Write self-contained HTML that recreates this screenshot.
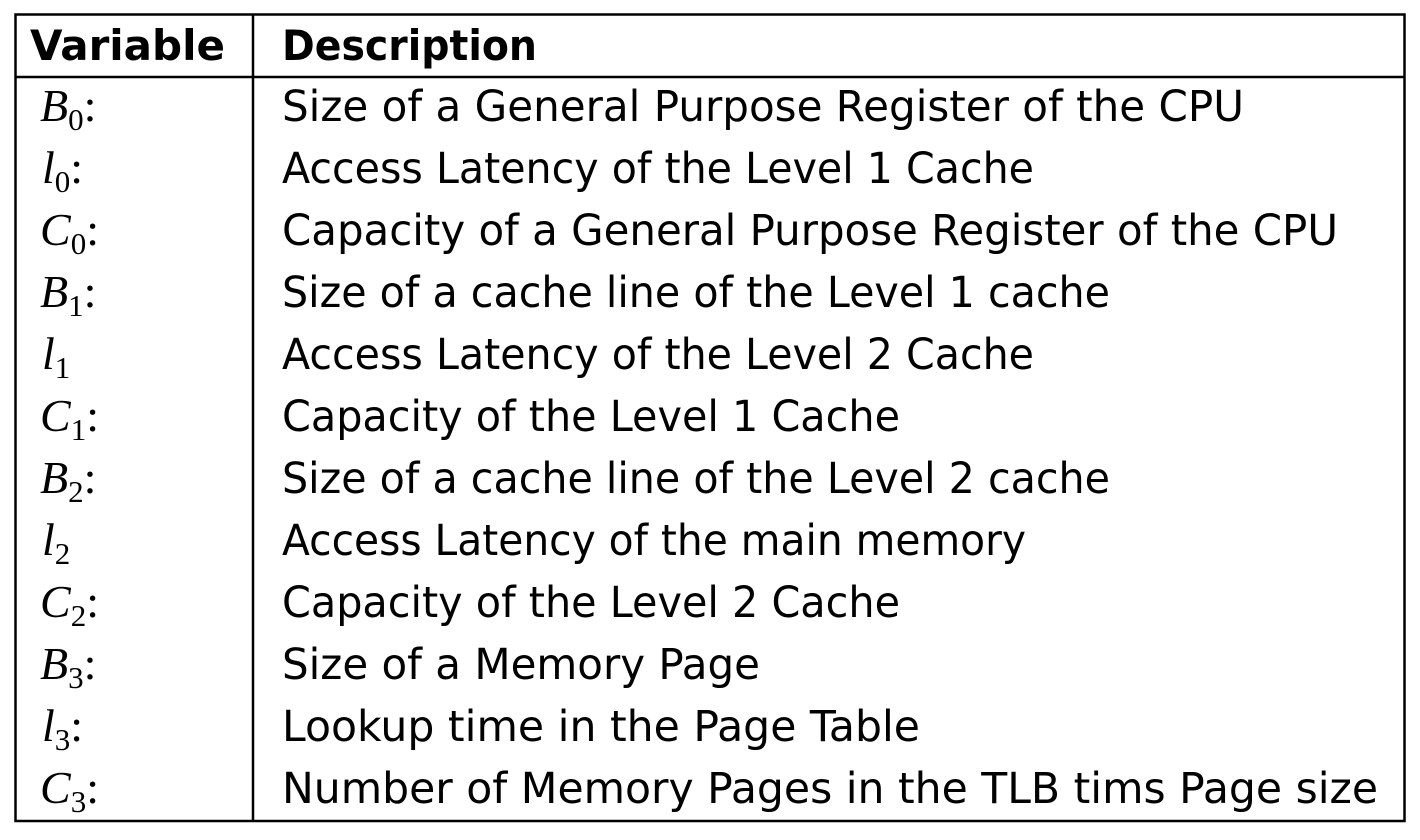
<!DOCTYPE html>
<html><head><meta charset="utf-8"><style>
html,body{margin:0;padding:0;background:#fff;width:1420px;height:840px;overflow:hidden}
svg text{fill:#000}
.d{font-family:"DejaVu Sans","Liberation Sans",sans-serif;font-size:43px}
.h{font-family:"DejaVu Sans","Liberation Sans",sans-serif;font-size:42px;font-weight:bold}
.v{font-family:"Liberation Serif",serif;font-size:46px;font-style:italic}
.s{font-family:"Liberation Serif",serif;font-size:31px;font-style:normal}
.c{font-family:"Liberation Serif",serif;font-size:46px;font-style:normal}
</style></head><body>
<svg width="1420" height="840" xmlns="http://www.w3.org/2000/svg">
<rect x="15.5" y="14.5" width="1389" height="806.5" fill="none" stroke="#000" stroke-width="2.5"/>
<line x1="15" y1="77" x2="1405" y2="77" stroke="#000" stroke-width="2.5"/>
<line x1="253" y1="14" x2="253" y2="821" stroke="#000" stroke-width="2.5"/>
<text class="h" x="30" y="60" textLength="195" lengthAdjust="spacingAndGlyphs">Variable</text>
<text class="h" x="282" y="60" textLength="255" lengthAdjust="spacingAndGlyphs">Description</text>
<g class="d">
<text x="282" y="121" textLength="962" lengthAdjust="spacingAndGlyphs">Size of a General Purpose Register of the CPU</text>
<text x="282" y="183" textLength="752" lengthAdjust="spacingAndGlyphs">Access Latency of the Level 1 Cache</text>
<text x="282" y="245" textLength="1056" lengthAdjust="spacingAndGlyphs">Capacity of a General Purpose Register of the CPU</text>
<text x="282" y="307" textLength="828" lengthAdjust="spacingAndGlyphs">Size of a cache line of the Level 1 cache</text>
<text x="282" y="369" textLength="752" lengthAdjust="spacingAndGlyphs">Access Latency of the Level 2 Cache</text>
<text x="282" y="431" textLength="618" lengthAdjust="spacingAndGlyphs">Capacity of the Level 1 Cache</text>
<text x="282" y="493" textLength="828" lengthAdjust="spacingAndGlyphs">Size of a cache line of the Level 2 cache</text>
<text x="282" y="555" textLength="744" lengthAdjust="spacingAndGlyphs">Access Latency of the main memory</text>
<text x="282" y="617" textLength="618" lengthAdjust="spacingAndGlyphs">Capacity of the Level 2 Cache</text>
<text x="282" y="679" textLength="478" lengthAdjust="spacingAndGlyphs">Size of a Memory Page</text>
<text x="282" y="741" textLength="638" lengthAdjust="spacingAndGlyphs">Lookup time in the Page Table</text>
<text x="282" y="803" textLength="1096" lengthAdjust="spacingAndGlyphs">Number of Memory Pages in the TLB tims Page size</text>
</g>
<g class="v">
<text x="40" y="121">B<tspan class="s" dy="9">0</tspan><tspan class="c" dy="-9">:</tspan></text>
<text x="42" y="183">l<tspan class="s" dy="9">0</tspan><tspan class="c" dy="-9">:</tspan></text>
<text x="40" y="245">C<tspan class="s" dy="9">0</tspan><tspan class="c" dy="-9">:</tspan></text>
<text x="40" y="307">B<tspan class="s" dy="9">1</tspan><tspan class="c" dy="-9">:</tspan></text>
<text x="42" y="369">l<tspan class="s" dy="9">1</tspan></text>
<text x="40" y="431">C<tspan class="s" dy="9">1</tspan><tspan class="c" dy="-9">:</tspan></text>
<text x="40" y="493">B<tspan class="s" dy="9">2</tspan><tspan class="c" dy="-9">:</tspan></text>
<text x="42" y="555">l<tspan class="s" dy="9">2</tspan></text>
<text x="40" y="617">C<tspan class="s" dy="9">2</tspan><tspan class="c" dy="-9">:</tspan></text>
<text x="40" y="679">B<tspan class="s" dy="9">3</tspan><tspan class="c" dy="-9">:</tspan></text>
<text x="42" y="741">l<tspan class="s" dy="9">3</tspan><tspan class="c" dy="-9">:</tspan></text>
<text x="40" y="803">C<tspan class="s" dy="9">3</tspan><tspan class="c" dy="-9">:</tspan></text>
</g>
</svg>
</body></html>
